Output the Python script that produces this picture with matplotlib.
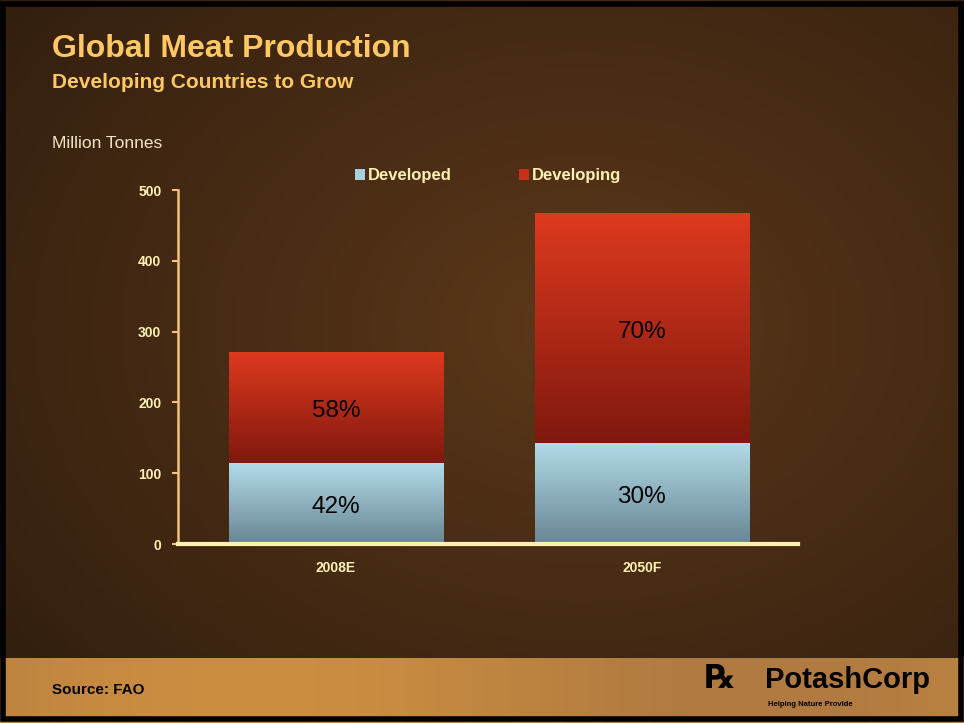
import numpy as np
import matplotlib
matplotlib.use("Agg")
import matplotlib.pyplot as plt
from matplotlib.patches import Rectangle

# Data (million tonnes)
years = ["2008E", "2050F"]
developed = [114, 142]
developing = [157, 326]
series_names = ["Developed", "Developing"]

cream = "#fff0b4"
gold = "#ffc864"

fig = plt.figure(figsize=(9.64, 7.23), dpi=100)

# Background: brown board with a tan strip along the bottom
bg = fig.add_axes([0, 0, 1, 1], zorder=-10)
bg.set_axis_off()
h, w = 200, 260
yy, xx = np.mgrid[0:h, 0:w]
r = np.sqrt(((xx - 0.6 * w) / w) ** 2 + ((yy - 0.45 * h) / h) ** 2)
shade = np.clip(1.0 - 0.6 * r, 0.55, 1.0)
img = np.zeros((h, w, 3))
img[..., 0] = 92 / 255 * shade
img[..., 1] = 56 / 255 * shade
img[..., 2] = 26 / 255 * shade
strip = yy > h * (656 / 723)
t = (xx / w)
img[strip, 0] = (190 + 14 * np.sin(t[strip] * 6)) / 255
img[strip, 1] = (132 + 10 * np.sin(t[strip] * 6)) / 255
img[strip, 2] = 64 / 255
bg.imshow(img, extent=[0, 1, 0, 1], aspect="auto", origin="upper")
bg.set_xlim(0, 1)
bg.set_ylim(0, 1)
bg.add_patch(Rectangle((0.003, 0.006), 0.994, 0.988, fill=False, edgecolor="black", linewidth=4))

# Titles
fig.text(52 / 964, 1 - 49 / 723, "Global Meat Production", color=gold, fontsize=23,
         fontweight="bold", family="Liberation Sans", va="center")
fig.text(52 / 964, 1 - 82 / 723, "Developing Countries to Grow", color=gold, fontsize=15,
         fontweight="bold", family="Liberation Sans", va="center")
fig.text(52 / 964, 1 - 143 / 723, "Million Tonnes", color="#f3e2c4", fontsize=12.5,
         family="Liberation Sans", va="center")
fig.text(52 / 964, 1 - 690 / 723, "Source: FAO", color="black", fontsize=11,
         fontweight="bold", family="Liberation Sans", va="center")
fig.text(765 / 964, 1 - 680 / 723, "PotashCorp", color="black", fontsize=21,
         fontweight="bold", family="Liberation Sans", va="center")
fig.text(768 / 964, 1 - 704 / 723, "Helping Nature Provide", color="black", fontsize=5.5,
         fontweight="bold", family="Liberation Sans", va="center")
fig.text(705 / 964, 1 - 678 / 723, "\u211E", color="black", fontsize=24,
         fontweight="bold", family="DejaVu Sans", va="center")

# Chart
ax = fig.add_axes([178 / 964, 179 / 723, 620 / 964, 354 / 723])
ax.patch.set_visible(False)
x = np.arange(len(years))
b1 = ax.bar(x, developed, width=0.7, color="#a7cfdf", label=series_names[0], zorder=2)
b2 = ax.bar(x, developing, width=0.7, bottom=developed, color="#c8301a",
            label=series_names[1], zorder=2)

# gradient fills clipped to the bars
grad = np.linspace(0, 1, 100).reshape(-1, 1)
blue_top, blue_bot = np.array([178, 218, 232]) / 255, np.array([104, 134, 148]) / 255
red_top, red_bot = np.array([222, 58, 30]) / 255, np.array([128, 24, 14]) / 255
for bars, top, bot in [(b1, blue_top, blue_bot), (b2, red_top, red_bot)]:
    for p in bars:
        x0, y0 = p.get_x(), p.get_y()
        x1, y1 = x0 + p.get_width(), y0 + p.get_height()
        g = top[None, None, :] * (1 - grad[..., None]) + bot[None, None, :] * grad[..., None]
        im = ax.imshow(g, extent=[x0, x1, y0, y1], aspect="auto", origin="upper", zorder=3)
        im.set_clip_path(p)

for i in range(len(years)):
    total = developed[i] + developing[i]
    ax.text(x[i], developed[i] / 2 - 5, f"{developed[i] / total * 100:.0f}%", ha="center",
            va="center", fontsize=17.5, color="black", family="Liberation Sans", zorder=5)
    ax.text(x[i], developed[i] + developing[i] / 2 - 5, f"{developing[i] / total * 100:.0f}%",
            ha="center", va="center", fontsize=17.5, color="black", family="Liberation Sans",
            zorder=5)

ax.set_xlim(-0.516, 1.51)
ax.set_ylim(0, 500)
ax.set_yticks([0, 100, 200, 300, 400, 500])
ax.set_xticks(x)
ax.set_xticklabels(years)
for s in ["top", "right"]:
    ax.spines[s].set_visible(False)
ax.spines["left"].set_color("#f2c47a")
ax.spines["left"].set_linewidth(1.8)
ax.spines["bottom"].set_color(cream)
ax.spines["bottom"].set_linewidth(3)
ax.spines["bottom"].set_zorder(6)
ax.tick_params(axis="y", colors="#f2c47a", length=4, width=1.5, labelcolor=cream,
               labelsize=10, pad=8)
ax.tick_params(axis="x", length=0, labelcolor=cream, labelsize=10, pad=12)
for lab in ax.get_xticklabels() + ax.get_yticklabels():
    lab.set_fontweight("bold")
    lab.set_family("Liberation Sans")

leg = ax.legend(loc="center", bbox_to_anchor=(0.5, 1.04), ncol=2, frameon=False,
                handlelength=0.6, handleheight=0.6, handletextpad=0.2, columnspacing=4.0,
                prop={"family": "Liberation Sans", "weight": "bold", "size": 12})
for txt in leg.get_texts():
    txt.set_color(cream)

fig.savefig("out.png", dpi=100)
